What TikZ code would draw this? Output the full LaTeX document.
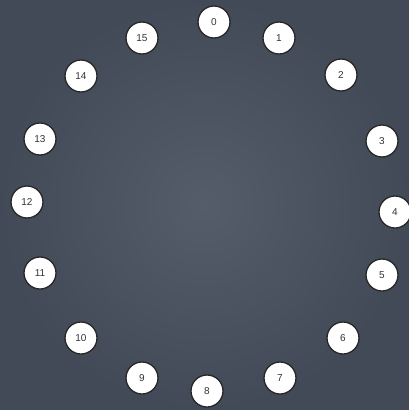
\documentclass[tikz,border=0pt]{standalone}
\usepackage{fontspec}
\setmainfont{Liberation Sans}
\begin{document}
\begin{tikzpicture}[x=1pt,y=-1pt,
  num/.style={circle,draw=black!85,line width=1.3pt,fill=white,minimum size=32pt,inner sep=0pt,font=\fontsize{10}{11}\selectfont,text=black!80}]
\definecolor{boardmid}{HTML}{555D6A}
\definecolor{boardedge}{HTML}{434A57}
\shade[inner color=boardmid,outer color=boardedge] (0,0) rectangle (409,410);
\useasboundingbox (0,0) rectangle (409,410);
\node[num] (n0)  at (214,22) {0};
\node[num] (n1)  at (279,38) {1};
\node[num] (n2)  at (341,75) {2};
\node[num] (n3)  at (382,141) {3};
\node[num] (n4)  at (395,212) {4};
\node[num] (n5)  at (382,275) {5};
\node[num] (n6)  at (343,338) {6};
\node[num] (n7)  at (280,378) {7};
\node[num] (n8)  at (207,391) {8};
\node[num] (n9)  at (142,378) {9};
\node[num] (n10) at (81,338) {10};
\node[num] (n11) at (40,273) {11};
\node[num] (n12) at (27,202) {12};
\node[num] (n13) at (40,139) {13};
\node[num] (n14) at (81,76) {14};
\node[num] (n15) at (142,38) {15};
\end{tikzpicture}
\end{document}
